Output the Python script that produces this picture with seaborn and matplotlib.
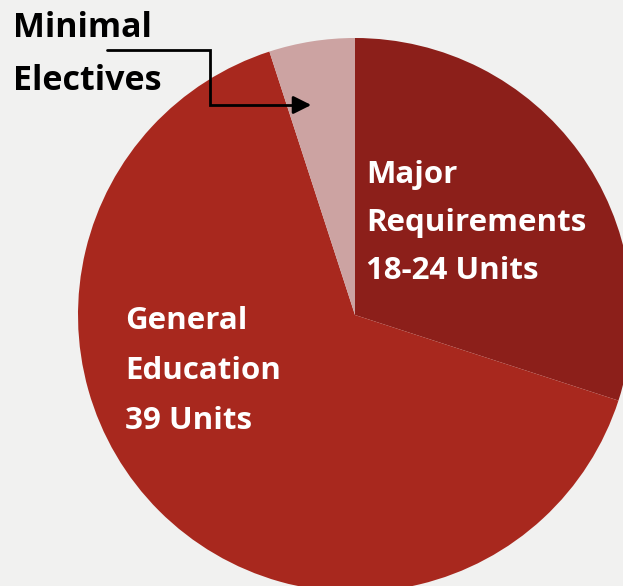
import matplotlib
matplotlib.use("Agg")
import matplotlib.pyplot as plt
import seaborn as sns

# data: units per component of the degree
categories = ["Major Requirements", "General Education", "Minimal Electives"]
units = [18, 39, 3]
colors = ["#8C1F1A", "#A8281E", "#CCA3A2"]

sns.set_theme(style="white")
plt.rcParams["font.family"] = ["Open Sans", "DejaVu Sans"]

W, H = 623, 586
fig = plt.figure(figsize=(W / 100, H / 100), dpi=100)
fig.patch.set_facecolor("#F1F1F0")
ax = fig.add_axes([0, 0, 1, 1])
ax.set_facecolor("#F1F1F0")

palette = sns.color_palette(colors)
ax.pie(units, colors=palette, startangle=90, counterclock=False,
       center=(355, H - 315), radius=277,
       wedgeprops=dict(linewidth=0))

ax.set_xlim(0, W)
ax.set_ylim(0, H)
ax.set_aspect("auto")
ax.axis("off")

# labels inside slices (one line per text for exact spacing)
major_lines = ["Major", "Requirements", "18-24 Units"]
for i, line in enumerate(major_lines):
    ax.text(366, H - 183 - 48 * i, line, color="white", fontsize=22.5,
            fontweight="bold", va="baseline", ha="left")

ge_lines = ["General", "Education", "39 Units"]
for i, line in enumerate(ge_lines):
    ax.text(125, H - 329 - 50 * i, line, color="white", fontsize=22.5,
            fontweight="bold", va="baseline", ha="left")

# callout for the small electives slice
ax.text(13, H - 37, "Minimal", color="black", fontsize=24.5,
        fontweight="bold", va="baseline", ha="left")
ax.text(13, H - 90, "Electives", color="black", fontsize=24.5,
        fontweight="bold", va="baseline", ha="left")

ax.plot([107, 210, 210, 300], [H - 50, H - 50, H - 105, H - 105],
        color="black", linewidth=2, solid_joinstyle="miter")
ax.annotate("", xy=(314, H - 105), xytext=(295, H - 105),
            arrowprops=dict(arrowstyle="-|>,head_length=0.9,head_width=0.45",
                            color="black", lw=2))

fig.savefig("out.png", dpi=100, facecolor=fig.get_facecolor())
